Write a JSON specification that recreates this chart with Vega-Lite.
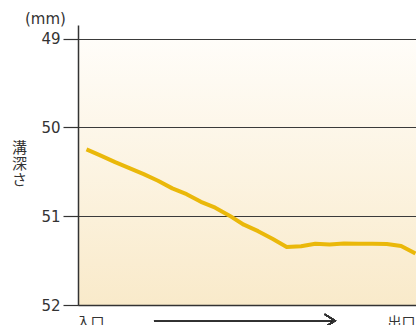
{
  "$schema": "https://vega.github.io/schema/vega-lite/v6.json",
  "width": 338,
  "height": 280,
  "autosize": "none",
  "padding": {"left": 78, "top": 25, "right": 0, "bottom": 20},
  "background": "white",
  "view": {
    "stroke": null,
    "fill": {
      "gradient": "linear",
      "x1": 0, "y1": 0, "x2": 0, "y2": 1,
      "stops": [
        {"offset": 0, "color": "#ffffff"},
        {"offset": 0.048, "color": "#ffffff"},
        {"offset": 0.049, "color": "#fffdf9"},
        {"offset": 1, "color": "#f9eaca"}
      ]
    }
  },
  "title": {
    "text": "(mm)",
    "anchor": "start",
    "frame": "group",
    "dx": -53,
    "dy": 16,
    "offset": 2,
    "baseline": "alphabetic",
    "font": "DejaVu Sans",
    "fontSize": 15,
    "fontWeight": "normal",
    "color": "#333333"
  },
  "data": {
    "values": [
      {"pos": 0, "depth": 50.248},
      {"pos": 1, "depth": 50.318},
      {"pos": 2, "depth": 50.392},
      {"pos": 3, "depth": 50.459},
      {"pos": 4, "depth": 50.527},
      {"pos": 5, "depth": 50.602},
      {"pos": 6, "depth": 50.687},
      {"pos": 7, "depth": 50.752},
      {"pos": 8, "depth": 50.839},
      {"pos": 9, "depth": 50.904},
      {"pos": 10, "depth": 50.994},
      {"pos": 11, "depth": 51.096},
      {"pos": 12, "depth": 51.169},
      {"pos": 13, "depth": 51.254},
      {"pos": 14, "depth": 51.346},
      {"pos": 15, "depth": 51.338},
      {"pos": 16, "depth": 51.31},
      {"pos": 17, "depth": 51.319},
      {"pos": 18, "depth": 51.308},
      {"pos": 19, "depth": 51.31},
      {"pos": 20, "depth": 51.311},
      {"pos": 21, "depth": 51.313},
      {"pos": 22, "depth": 51.335},
      {"pos": 23, "depth": 51.42}
    ]
  },
  "layer": [
    {
      "mark": {"type": "line", "color": "#eab80a", "strokeWidth": 4, "strokeJoin": "round", "clip": true},
      "encoding": {
        "x": {
          "field": "pos",
          "type": "quantitative",
          "scale": {"domain": [-0.594, 23.04], "nice": false, "zero": false},
          "axis": {
            "values": [-0.594, 21.15],
            "labelExpr": "datum.value < 0 ? '入口' : '出口'",
            "labelAlign": "left",
            "labelBaseline": "top",
            "labelOffset": -2,
            "labelFlush": false,
            "labelOverlap": false,
            "labelPadding": 10,
            "labelFont": "Noto Sans CJK JP",
            "labelFontSize": 14,
            "labelColor": "#333333",
            "ticks": false,
            "grid": false,
            "domainColor": "#333333",
            "domainWidth": 1.5,
            "title": null
          }
        },
        "y": {
          "field": "depth",
          "type": "quantitative",
          "scale": {"domain": [48.848, 52], "reverse": true, "nice": false, "zero": false},
          "axis": {
            "values": [49, 50, 51, 52],
            "format": "d",
            "grid": true,
            "gridColor": "#3a3a3a",
            "gridWidth": 1.2,
            "gridOpacity": 1,
            "domainColor": "#333333",
            "domainWidth": 1.5,
            "tickColor": "#333333",
            "tickWidth": 1.2,
            "tickSize": 15,
            "labelFont": "DejaVu Sans",
            "labelFontSize": 15,
            "labelColor": "#333333",
            "labelPadding": 3,
            "title": ["溝", "深", "さ"],
            "titleFont": "Noto Sans CJK JP",
            "titleFontSize": 15,
            "titleFontWeight": "normal",
            "titleColor": "#333333",
            "titleAngle": 0,
            "titleAlign": "center",
            "titleBaseline": "top",
            "titleLineHeight": 16,
            "titleX": -59,
            "titleY": 115
          }
        }
      }
    },
    {
      "mark": {"type": "rule", "color": "#333333", "strokeWidth": 1.3, "clip": false},
      "encoding": {
        "x": {"datum": 4.72, "type": "quantitative"},
        "x2": {"datum": 17.38},
        "y": {"datum": 52.177, "type": "quantitative"}
      }
    },
    {
      "mark": {
        "type": "point",
        "shape": "M -1.6 -1 L 0 0 L -1.6 1",
        "filled": false,
        "size": 169,
        "color": "#333333",
        "strokeWidth": 1.3,
        "opacity": 1,
        "clip": false
      },
      "encoding": {
        "x": {"datum": 17.38, "type": "quantitative"},
        "y": {"datum": 52.177, "type": "quantitative"}
      }
    }
  ]
}
